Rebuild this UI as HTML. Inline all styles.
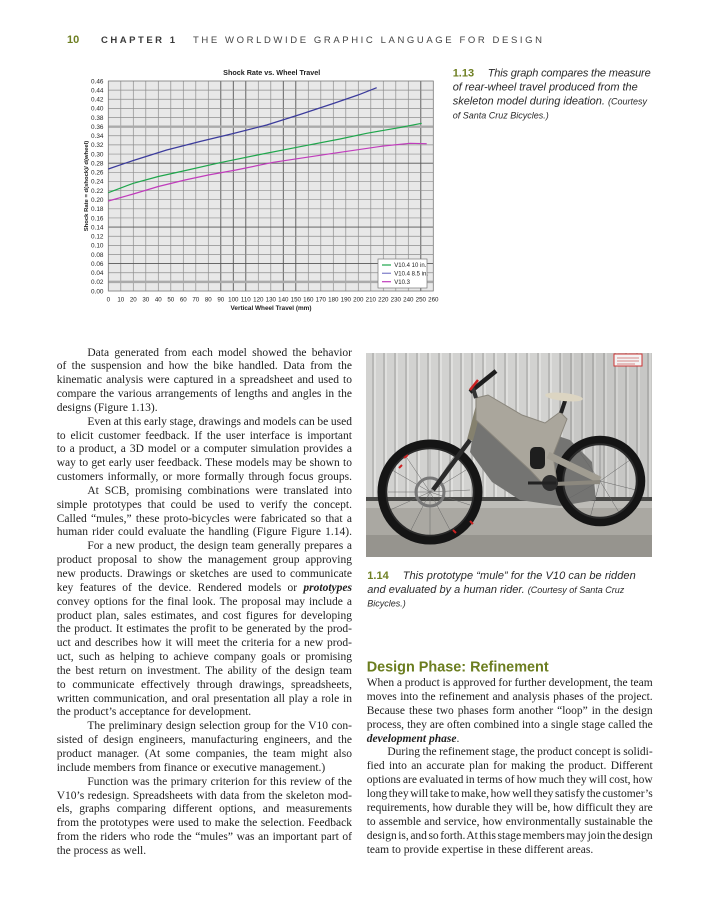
<!DOCTYPE html>
<html><head><meta charset="utf-8">
<style>
html,body{margin:0;padding:0;background:#fff;}
body{width:702px;height:900px;position:relative;overflow:hidden;}
svg.page{position:absolute;left:0;top:0;}
.col{position:absolute;font-family:"Liberation Serif",serif;font-size:11.5px;color:#1e1e1e;}
.col div{height:13.85px;line-height:13.85px;text-align:justify;text-align-last:justify;word-spacing:-2.5px;white-space:normal;}
.col.r div{height:13.95px;line-height:13.95px;}
.col div.l{text-align:left;text-align-last:left;word-spacing:0;}
.col div.i{text-indent:30.7px;}
.col.r div.i{text-indent:20.7px;}
.bi{font-weight:bold;font-style:italic;}
</style></head><body>
<svg class="page" width="702" height="900" viewBox="0 0 702 900" xmlns="http://www.w3.org/2000/svg">
<defs>
<clipPath id="pc"><rect x="366" y="353" width="286" height="204"/></clipPath>
<pattern id="corr" x="366" y="0" width="11" height="10" patternUnits="userSpaceOnUse">
<rect width="11" height="10" fill="#d2d2d0"/><rect x="6" width="2" height="10" fill="#b8b8b6"/><rect x="8" width="2" height="10" fill="#e0e0de"/>
</pattern>
</defs>
<!-- Header -->
<text x="67" y="43" font-family="Liberation Sans, sans-serif" font-size="11" font-weight="bold" fill="#6e7f22">10</text>
<text x="101" y="43" font-family="Liberation Sans, sans-serif" font-size="9.5" font-weight="bold" fill="#3a3a3a" textLength="74" lengthAdjust="spacing">CHAPTER 1</text>
<text x="193" y="43" font-family="Liberation Sans, sans-serif" font-size="9.5" fill="#444" textLength="349" lengthAdjust="spacing">THE WORLDWIDE GRAPHIC LANGUAGE FOR DESIGN</text>

<!-- Chart -->
<text x="271.7" y="75" text-anchor="middle" font-family="Liberation Sans, sans-serif" font-size="7.2" font-weight="bold" fill="#222">Shock Rate vs. Wheel Travel</text>
<rect x="108.3" y="81" width="325" height="210" fill="#e8e8e8"/>
<path d="M120.8 81V291M133.3 81V291M145.8 81V291M158.3 81V291M170.8 81V291M183.3 81V291M195.8 81V291M208.3 81V291M258.3 81V291M270.8 81V291M308.3 81V291M320.8 81V291M333.3 81V291M345.8 81V291M358.3 81V291M370.8 81V291M383.3 81V291M395.8 81V291M408.3 81V291" stroke="#8e8e8e" stroke-width="0.7" fill="none"/>
<path d="M220.8 81V291M233.3 81V291M245.8 81V291M283.3 81V291M295.8 81V291M420.8 81V291" stroke="#555" stroke-width="0.9" fill="none"/>
<path d="M108.3 90.13H433.3M108.3 99.26H433.3M108.3 108.39H433.3M108.3 117.52H433.3M108.3 135.78H433.3M108.3 144.91H433.3M108.3 154.04H433.3M108.3 172.3H433.3M108.3 181.43H433.3M108.3 190.57H433.3M108.3 199.7H433.3M108.3 208.83H433.3M108.3 217.96H433.3M108.3 236.22H433.3M108.3 245.35H433.3M108.3 254.48H433.3M108.3 272.74H433.3" stroke="#8e8e8e" stroke-width="0.7" fill="none"/>
<path d="M108.3 163.17H433.3M108.3 227.09H433.3M108.3 263.61H433.3" stroke="#555" stroke-width="0.9" fill="none"/>
<path d="M108.3 126.65H433.3M108.3 281.87H433.3" stroke="#aaa" stroke-width="2.4" fill="none"/>
<rect x="108.3" y="81" width="325" height="210" fill="none" stroke="#777" stroke-width="0.8"/>
<g font-family="Liberation Sans, sans-serif" font-size="6.4" fill="#222" text-anchor="end">
<text x="103.5" y="83.3">0.46</text><text x="103.5" y="92.4">0.44</text><text x="103.5" y="101.6">0.42</text><text x="103.5" y="110.7">0.40</text><text x="103.5" y="119.8">0.38</text><text x="103.5" y="129">0.36</text><text x="103.5" y="138.1">0.34</text><text x="103.5" y="147.2">0.32</text><text x="103.5" y="156.3">0.30</text><text x="103.5" y="165.5">0.28</text><text x="103.5" y="174.6">0.26</text><text x="103.5" y="183.7">0.24</text><text x="103.5" y="192.9">0.22</text><text x="103.5" y="202">0.20</text><text x="103.5" y="211.1">0.18</text><text x="103.5" y="220.3">0.16</text><text x="103.5" y="229.4">0.14</text><text x="103.5" y="238.5">0.12</text><text x="103.5" y="247.7">0.10</text><text x="103.5" y="256.8">0.08</text><text x="103.5" y="265.9">0.06</text><text x="103.5" y="275">0.04</text><text x="103.5" y="284.2">0.02</text><text x="103.5" y="293.3">0.00</text>
</g>
<g font-family="Liberation Sans, sans-serif" font-size="6.2" fill="#222" text-anchor="middle">
<text x="108.3" y="301.5">0</text><text x="120.8" y="301.5">10</text><text x="133.3" y="301.5">20</text><text x="145.8" y="301.5">30</text><text x="158.3" y="301.5">40</text><text x="170.8" y="301.5">50</text><text x="183.3" y="301.5">60</text><text x="195.8" y="301.5">70</text><text x="208.3" y="301.5">80</text><text x="220.8" y="301.5">90</text><text x="233.3" y="301.5">100</text><text x="245.8" y="301.5">110</text><text x="258.3" y="301.5">120</text><text x="270.8" y="301.5">130</text><text x="283.3" y="301.5">140</text><text x="295.8" y="301.5">150</text><text x="308.3" y="301.5">160</text><text x="320.8" y="301.5">170</text><text x="333.3" y="301.5">180</text><text x="345.8" y="301.5">190</text><text x="358.3" y="301.5">200</text><text x="370.8" y="301.5">210</text><text x="383.3" y="301.5">220</text><text x="395.8" y="301.5">230</text><text x="408.3" y="301.5">240</text><text x="420.8" y="301.5">250</text><text x="433.3" y="301.5">260</text>
</g>
<text x="271" y="310" text-anchor="middle" font-family="Liberation Sans, sans-serif" font-size="6.4" font-weight="bold" fill="#222">Vertical Wheel Travel (mm)</text>
<text transform="translate(88,186) rotate(-90)" text-anchor="middle" font-family="Liberation Sans, sans-serif" font-size="5.9" font-weight="bold" fill="#222">Shock Rate = d(shock)/ d(wheel)</text>
<polyline points="108.3,169 133.3,160.5 166.7,150 200,141.5 233.3,133.5 266.7,125 300,114.5 333.3,103.5 358,95 376.7,87.7" fill="none" stroke="#3b3b9c" stroke-width="1.2"/>
<polyline points="108.3,192.7 133.3,183.3 158.3,176.5 183.3,171 220,162.7 260,154.5 300,146.7 340,139 366.7,133.3 400,127.5 421.7,123.3" fill="none" stroke="#1fa64c" stroke-width="1.2"/>
<polyline points="108.3,201 133.3,194 158.3,186.5 185,180 208.3,175 236,170 273.3,162.3 333.3,153.3 383.3,146 410,143.3 426.7,143.7" fill="none" stroke="#c03cbc" stroke-width="1.2"/>
<rect x="378" y="259" width="49" height="29" fill="#fff" stroke="#777" stroke-width="0.7"/>
<path d="M382 265H391" stroke="#1fa64c" stroke-width="1.2"/>
<path d="M382 273.3H391" stroke="#8f8fd0" stroke-width="1.4"/>
<path d="M382 281.7H391" stroke="#c03cbc" stroke-width="1.2"/>
<g font-family="Liberation Sans, sans-serif" font-size="6" fill="#222">
<text x="394.3" y="267.2">V10.4 10 in.</text><text x="394.3" y="275.5">V10.4 8.5 in.</text><text x="394.3" y="283.9">V10.3</text>
</g>

<!-- Caption 1.13 -->
<g font-family="Liberation Sans, sans-serif" fill="#2a2a2a">
<text x="452.7" y="76.5" font-size="11" font-weight="bold" fill="#6e7f22">1.13</text>
<text x="487.7" y="76.5" font-size="11" font-style="italic" textLength="163" lengthAdjust="spacing">This graph compares the measure</text>
<text x="452.7" y="90.5" font-size="11" font-style="italic" textLength="185" lengthAdjust="spacing">of rear-wheel travel produced from the</text>
<text x="452.7" y="104.5" font-size="11" font-style="italic">skeleton model during ideation. <tspan font-size="9">(Courtesy</tspan></text>
<text x="452.7" y="118.5" font-size="9" font-style="italic">of Santa Cruz Bicycles.)</text>
</g>

<!-- Photo -->
<g clip-path="url(#pc)">
<rect x="366" y="353" width="286" height="204" fill="#cfcfcd"/>
<rect x="366" y="353" width="286" height="146" fill="url(#corr)"/>
<rect x="560" y="353" width="92" height="146" fill="#000" opacity="0.05"/>
<rect x="366" y="497" width="286" height="4" fill="#4a4a48"/>
<rect x="366" y="501" width="286" height="7" fill="#bdbcb7"/>
<rect x="366" y="508" width="286" height="49" fill="#aaa8a2"/>
<rect x="366" y="535" width="286" height="22" fill="#96948e"/>
<rect x="614" y="354" width="28" height="12" fill="#f4f4f4" stroke="#c33" stroke-width="1"/>
<path d="M617 358H639M617 361H639M617 364H635" stroke="#c66" stroke-width="0.7"/>
<polygon points="478,410 500,420 540,430 570,440 592,462 596,500 560,506 520,500 492,482 470,452" fill="#747472"/>
<!-- front wheel -->
<g stroke="#666" stroke-width="0.5">
<path d="M430 492L430 448M430 492L466 470M430 492L470 505M430 492L450 530M430 492L410 532M430 492L390 510M430 492L392 470M430 492L405 455M430 492L455 455M430 492L470 490M430 492L430 536M430 492L388 492"/>
</g>
<circle cx="430" cy="492" r="44" fill="none" stroke="#2a2a2a" stroke-width="2.5"/>
<circle cx="430" cy="492" r="48.5" fill="none" stroke="#151515" stroke-width="8"/>
<circle cx="430" cy="492" r="14" fill="none" stroke="#777" stroke-width="3"/>
<path d="M404 458l4 -3M399 468l3 -3M470 521l3 3M453 530l3 3" stroke="#c22" stroke-width="2"/>
<!-- rear wheel -->
<g stroke="#666" stroke-width="0.5">
<path d="M600 481L600 444M600 481L630 460M600 481L636 490M600 481L620 514M600 481L590 518M600 481L566 500M600 481L566 465M600 481L578 450"/>
</g>
<circle cx="600" cy="481" r="37" fill="none" stroke="#2a2a2a" stroke-width="2.5"/>
<circle cx="600" cy="481" r="41.5" fill="none" stroke="#151515" stroke-width="7.5"/>
<!-- fork -->
<path d="M481 398L470 440" stroke="#85816e" stroke-width="6" fill="none"/>
<path d="M470 440L433 490" stroke="#2a2a2a" stroke-width="4.5" fill="none"/>
<!-- frame -->
<polygon points="476,398 488,395 522,415 545,423 560,412 567,419 553,455 557,483 545,486 530,470 476,420" fill="#aaa69c" stroke="#8a867c" stroke-width="1"/>
<path d="M548 455L600 480" stroke="#a19d92" stroke-width="7" fill="none"/>
<path d="M555 484L600 482" stroke="#8c887e" stroke-width="4" fill="none"/>
<rect x="530" y="447" width="15" height="22" rx="5" fill="#1e1e1e"/>
<circle cx="550" cy="483" r="8" fill="#2c2c2c"/>
<path d="M528 483H556" stroke="#222" stroke-width="3"/>
<path d="M561 413L566 398" stroke="#222" stroke-width="4"/>
<ellipse cx="564" cy="397" rx="19" ry="4" fill="#dcd5c2" transform="rotate(6 564 397)"/>
<path d="M470 392L496 371" stroke="#1e1e1e" stroke-width="4.5"/>
<path d="M476 398L473 388" stroke="#333" stroke-width="4"/>
<path d="M470 390L478 380" stroke="#c22" stroke-width="2.5"/>
</g>

<!-- Caption 1.14 -->
<g font-family="Liberation Sans, sans-serif" fill="#2a2a2a">
<text x="367.3" y="579" font-size="11" font-weight="bold" fill="#6e7f22">1.14</text>
<text x="402.7" y="579" font-size="11" font-style="italic" textLength="233" lengthAdjust="spacing">This prototype “mule” for the V10 can be ridden</text>
<text x="367.3" y="593" font-size="11" font-style="italic">and evaluated by a human rider. <tspan font-size="9">(Courtesy of Santa Cruz</tspan></text>
<text x="367.3" y="606.5" font-size="9" font-style="italic">Bicycles.)</text>
</g>

<!-- Heading -->
<text x="366.7" y="671.7" font-family="Liberation Sans, sans-serif" font-size="14.5" font-weight="bold" fill="#6b7d1f" textLength="182" lengthAdjust="spacingAndGlyphs">Design Phase: Refinement</text>
</svg>

<div class="col" style="left:56.7px;top:346.5px;width:295.3px;">
<div class="i">Data generated from each model showed the behavior</div>
<div>of the suspension and how the bike handled. Data from the</div>
<div>kinematic analysis were captured in a spreadsheet and used to</div>
<div>compare the various arrangements of lengths and angles in the</div>
<div class="l">designs (Figure 1.13).</div>
<div class="i">Even at this early stage, drawings and models can be used</div>
<div>to elicit customer feedback. If the user interface is important</div>
<div>to a product, a 3D model or a computer simulation provides a</div>
<div>way to get early user feedback. These models may be shown to</div>
<div>customers informally, or more formally through focus groups.</div>
<div class="i">At SCB, promising combinations were translated into</div>
<div>simple prototypes that could be used to verify the concept.</div>
<div>Called “mules,” these proto-bicycles were fabricated so that a</div>
<div>human rider could evaluate the handling (Figure Figure 1.14).</div>
<div class="i">For a new product, the design team generally prepares a</div>
<div>product proposal to show the management group approving</div>
<div>new products. Drawings or sketches are used to communicate</div>
<div>key features of the device. Rendered models or <span class="bi">prototypes</span></div>
<div>convey options for the final look. The proposal may include a</div>
<div>product plan, sales estimates, and cost figures for developing</div>
<div>the product. It estimates the profit to be generated by the prod-</div>
<div>uct and describes how it will meet the criteria for a new prod-</div>
<div>uct, such as helping to achieve company goals or promising</div>
<div>the best return on investment. The ability of the design team</div>
<div>to communicate effectively through drawings, spreadsheets,</div>
<div>written communication, and oral presentation all play a role in</div>
<div class="l">the product’s acceptance for development.</div>
<div class="i">The preliminary design selection group for the V10 con-</div>
<div>sisted of design engineers, manufacturing engineers, and the</div>
<div>product manager. (At some companies, the team might also</div>
<div class="l">include members from finance or executive management.)</div>
<div class="i">Function was the primary criterion for this review of the</div>
<div>V10’s redesign. Spreadsheets with data from the skeleton mod-</div>
<div>els, graphs comparing different options, and measurements</div>
<div>from the prototypes were used to make the selection. Feedback</div>
<div>from the riders who rode the “mules” was an important part of</div>
<div class="l">the process as well.</div>
</div>

<div class="col r" style="left:366.7px;top:676.8px;width:286px;">
<div>When a product is approved for further development, the team</div>
<div>moves into the refinement and analysis phases of the project.</div>
<div>Because these two phases form another “loop” in the design</div>
<div>process, they are often combined into a single stage called the</div>
<div class="l"><span class="bi">development phase</span>.</div>
<div class="i">During the refinement stage, the product concept is solidi-</div>
<div>fied into an accurate plan for making the product. Different</div>
<div>options are evaluated in terms of how much they will cost, how</div>
<div>long they will take to make, how well they satisfy the customer’s</div>
<div>requirements, how durable they will be, how difficult they are</div>
<div>to assemble and service, how environmentally sustainable the</div>
<div>design is, and so forth. At this stage members may join the design</div>
<div class="l">team to provide expertise in these different areas.</div>
</div>
</body></html>
